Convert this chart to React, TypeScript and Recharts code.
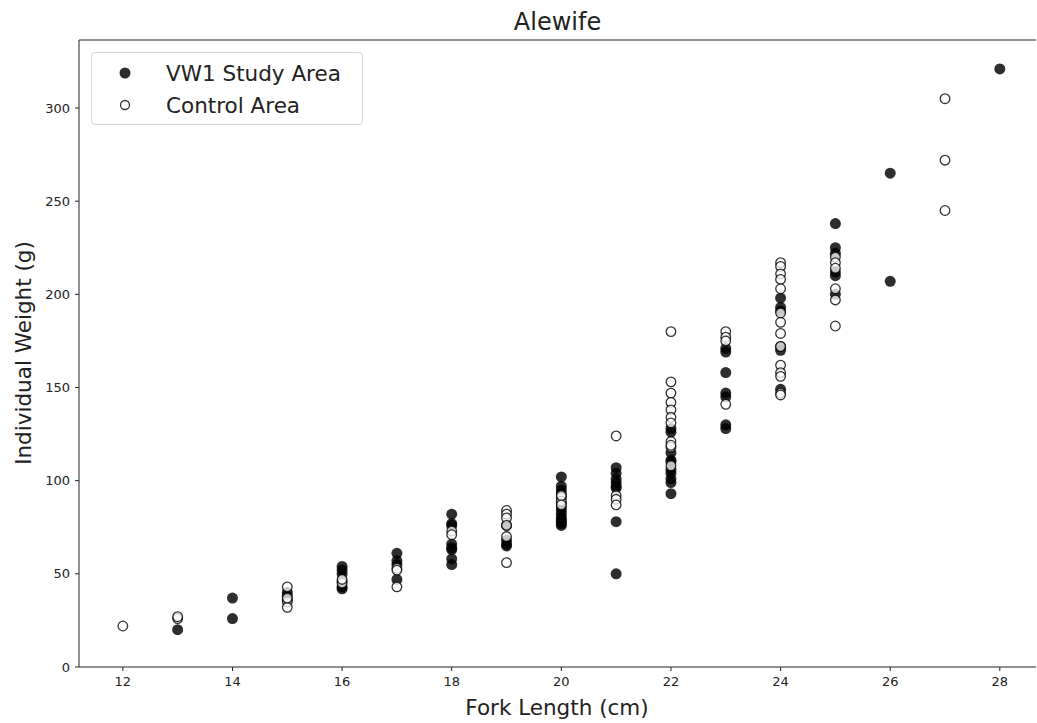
import { ScatterChart, Scatter, XAxis, YAxis, ReferenceLine } from "recharts";

// fork length (cm) and the weights (g) read at each length
const lengths = [12, 13, 14, 15, 16, 17, 18, 19, 20, 21, 22, 23, 24, 25, 26, 27, 28];

const studyWeights: number[][] = [
  [],
  [20],
  [37, 26],
  [38, 40, 36],
  [54, 52, 43, 42, 50],
  [61, 57, 47, 55],
  [82, 77, 76, 66, 64, 63, 58, 55],
  [66, 65, 68, 76],
  [102, 97, 95, 93, 88, 86, 84, 82, 80, 79, 78, 77, 76],
  [107, 104, 101, 99, 97, 96, 78, 50],
  [128, 126, 115, 111, 106, 104, 101, 99, 93, 110],
  [171, 169, 158, 147, 145, 130, 128],
  [198, 193, 191, 172, 170, 149],
  [238, 225, 222, 210, 212, 200],
  [265, 207],
  [],
  [321],
];

const controlWeights: number[][] = [
  [22],
  [26, 27],
  [],
  [43, 35, 32, 37],
  [46, 45, 47],
  [53, 43, 52],
  [73, 71],
  [84, 82, 80, 76, 70, 56],
  [91, 89, 92, 87],
  [124, 92, 90, 87],
  [180, 153, 147, 142, 138, 134, 131, 121, 118, 108, 119],
  [180, 177, 175, 141],
  [217, 215, 211, 208, 203, 190, 185, 179, 172, 162, 158, 156, 147, 146],
  [220, 217, 214, 203, 197, 183],
  [],
  [305, 272, 245],
  [],
];

const xTicks = [12, 14, 16, 18, 20, 22, 24, 26, 28];
const yTicks = [0, 50, 100, 150, 200, 250, 300];

const toPoints = (groups: number[][]) =>
  lengths.flatMap((len, i) => groups[i].map((w) => ({ length: len, weight: w })));

const studyData = toPoints(studyWeights);
const controlData = toPoints(controlWeights);

const FONT = "DejaVu Sans, sans-serif";
const INK = "#222";

const FilledDot = (props: any) => (
  <circle cx={props.cx} cy={props.cy} r={5.5} fill="#000" fillOpacity={0.82} />
);

const OpenDot = (props: any) => (
  <circle
    cx={props.cx}
    cy={props.cy}
    r={4.8}
    fill="#fff"
    fillOpacity={0.75}
    stroke="#000"
    strokeOpacity={0.8}
    strokeWidth={1.3}
  />
);

const LegendBox = () => (
  <div
    style={{
      position: "absolute",
      left: 91,
      top: 52,
      width: 270,
      height: 71,
      border: "1px solid #d6d6d6",
      borderRadius: 4,
      background: "#fff",
    }}
  >
    <svg width={270} height={71} style={{ position: "absolute", left: 0, top: 0 }}>
      <circle cx={33} cy={20} r={5.5} fill="#000" fillOpacity={0.82} />
      <circle cx={33} cy={52} r={4.5} fill="#fff" stroke="#000" strokeOpacity={0.8} strokeWidth={1.3} />
      <text x={74} y={20} dominantBaseline="central" fontSize={21.5} fill={INK} fontFamily={FONT}>
        VW1 Study Area
      </text>
      <text x={74} y={52} dominantBaseline="central" fontSize={21.5} fill={INK} fontFamily={FONT}>
        Control Area
      </text>
    </svg>
  </div>
);

export default function App() {
  return (
    <div style={{ position: "absolute", left: 0, top: 0, width: 1037, height: 723, background: "#fff" }}>
      <div
        style={{
          position: "absolute",
          left: 79,
          width: 957,
          top: 8,
          textAlign: "center",
          fontFamily: FONT,
          fontSize: 24,
          color: INK,
        }}
      >
        Alewife
      </div>
      <ScatterChart width={1037} height={723} margin={{ top: 40, right: 1, left: 0, bottom: 0 }}>
        <XAxis
          type="number"
          dataKey="length"
          domain={[11.2, 28.66]}
          ticks={xTicks}
          allowDataOverflow
          height={56}
          tickSize={4}
          tickMargin={6}
          stroke={INK}
          tick={{ fontSize: 13, fontFamily: FONT, fill: INK }}
          label={() => (
            <text x={557} y={707} textAnchor="middle" dominantBaseline="central" fontSize={21.5} fontFamily={FONT} fill={INK}>
              Fork Length (cm)
            </text>
          )}
        />
        <YAxis
          type="number"
          dataKey="weight"
          domain={[0, 336.5]}
          ticks={yTicks}
          allowDataOverflow
          width={79}
          tickSize={4}
          tickMargin={5}
          stroke={INK}
          tick={{ fontSize: 13, fontFamily: FONT, fill: INK }}
          label={() => (
            <text
              x={23}
              y={353}
              transform="rotate(-90 23 353)"
              textAnchor="middle"
              dominantBaseline="central"
              fontSize={21.5}
              fontFamily={FONT}
              fill={INK}
            >
              Individual Weight (g)
            </text>
          )}
        />
        <ReferenceLine y={336.5} stroke={INK} strokeWidth={1} ifOverflow="visible" />
        <Scatter name="VW1 Study Area" data={studyData} shape={FilledDot} isAnimationActive={false} />
        <Scatter name="Control Area" data={controlData} shape={OpenDot} isAnimationActive={false} />
      </ScatterChart>
      <LegendBox />
    </div>
  );
}
